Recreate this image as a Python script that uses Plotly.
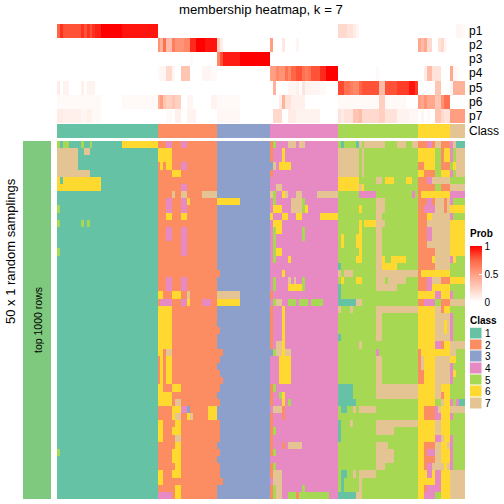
import plotly.graph_objects as go

SIZE = 504
TITLE = "membership heatmap, k = 7"
ROW_TITLE = "50 x 1 random samplings"
BLOCK_TITLE = "top 1000 rows"
CLASS_NAMES = ["1", "2", "3", "4", "5", "6", "7"]
CLASS_COUNTS = [34, 20, 18, 23, 27, 11, 5]
CLASS_COLORS = ["#66C2A5", "#FC8D62", "#8DA0CB", "#E78AC3", "#A6D854", "#FFD92F", "#E5C494"]
PROB_NAMES = ["p1", "p2", "p3", "p4", "p5", "p6", "p7"]

# membership probability, column runs "start-end:value" (all others 0)
P1 = "0:.75 1:.88 2-7:.8 8:.88 9:.8 10:.88 11:.8 12:.88 13-14:.92 15-21:1 22-33:.95 95-97:.2 98-99:.15 100:.1 101:.05 135-136:.05 137:.03"
P2 = "34:.55 35:.4 36:.7 37-38:.35 39:.65 40-42:.55 43-44:.6 45-46:.9 47-49:1 50-53:.95 54:.25 55:.1 72:.5 76:.12 81:.05 122:.45 123:.35 124:.45 125-126:.2 129:.15 130:.2 131:.05"
P3 = "45:.03 54:.6 55:.8 56-61:.93 62-71:1"
P4 = "34:.03 35-36:.05 37-38:.2 39:.05 42-44:.3 49-51:.05 52-53:.03 72-73:.5 74:.6 75-76:.55 77:.7 78:.6 79-80:.75 81-82:.8 83:.7 84:.65 85:.7 86-88:.8 89-90:.9 91-94:1 108:.03 124:.1 125-126:.35 127-129:.15 133:.45 134:.05 135:.03"
P5 = "0:.1 2-3:.06 8:.08 10-12:.06 73:.4 78-80:.05 81:.08 83:.15 84-85:.06 86-88:.05 89-90:.03 95-96:.82 97-98:.7 99:.65 100-101:.6 102:.75 103-108:.8 109-110:.35 111-114:.8 115-118:.85 119-120:.95 121:.85 128-129:.3 133:.05 134-137:.4"
P6 = "0-14:.03 22-33:.03 34:.4 35:.5 36:.3 37-38:.25 39:.3 40-41:.25 44-45:.05 52-53:.06 54-61:.03 75:.1 76:.4 77-78:.15 79-83:.08 95-108:.03 109-110:.25 111-117:.03 122:.5 123:.45 124:.55 125-127:.45 128-129:.3 130:.55 131-132:.7"
P7 = "0-1:.1 2-7:.08 8-9:.05 10-11:.07 12-14:.03 37-38:.03 40-41:.08 44-46:.06 54-61:.04 73-75:.2 78-80:.1 81-88:.06 95:.15 96:.1 97-99:.15 100-101:.3 102:.35 103-108:.2 109-110:.25 111-114:.15 115-118:.06 119-121:.04 123:.05 125:.03 128-129:.3 130:.2 131-132:.15 133-137:.5"
PROB_ROWS = [P1, P2, P3, P4, P5, P6, P7]

# sampled class of every row: exceptions from the column's own class
ROW_RUNS = [
    "0:5 2-3:5 8:5 11:5 22-33:6 37-38:4 42-43:4 72:2 73:5 78-80:7 82-83:7 96:1 101:1 102:7 104-110:7 115-117:7 120-121:7",
    "0-6:7 9-10:7 34-38:6 72:2 76:6 95-101:7 103:7",
    "0-6:7 34-38:6 72:2 76:6 95-101:7 103:7",
    "0-6:7 35:6 37-38:6 42-43:4 72:3 73:7 75-78:6 95-101:7 103:7",
    "0-10:7 39-41:6 72:2 95-101:7 103:7",
    "0:6 2-14:6 95-101:6 108-109:7 111-113:6 118-119:6",
    "0-14:6 42-43:4 74-75:7 95-101:6 102:7 103:6",
    "39:7 42-43:7 49-53:7 72:7 73:5 76:6 77:7 81-82:7 88-94:7 102-107:4 120:4",
    "37-38:4 42-43:4 44:6 54-61:6 73:5 79-82:7 83:5 108-110:7",
    "0:5 37-38:4 42-43:4 73-75:6 79-82:7 83:5 84:6 102:6 108-110:7",
    "37-38:6 42-43:6 72:6 76-77:6 81-82:6 89-94:6 108-109:7",
    "0:5 8:5 10:5 73-75:6 102:6 104-107:6 108-110:7",
    "37-38:4 42-43:4 73:5 74-75:6 83:5 102:6 108-109:7",
    "37-38:4 42-43:4 73:5 83:5 96:6 101-102:6 108-109:7",
    "42-43:4 73:5 96:6 101-102:6 108-109:7",
    "0:5 42-43:4 73:5 74-75:6 102:6 108-109:7",
    "73:5 78:6 101-102:6 108-109:7 110:6 113-117:6",
    "95:1 108-109:7 110-114:6",
    "54:2 76:6 95:7 97-99:7 108-121:7",
    "37-38:4 42-43:4 73:5 78:7 80:7 83:5 96:6 101-102:6 108-110:7 112-117:7",
    "37-38:4 42-43:4 73:5 78-82:6 83:5 95:1 108-114:7",
    "34-35:6 39-41:6 44:7 54-61:7 72:2 95:1",
    "35-38:4 42-43:4 44:6 49-51:4 54-61:6 73:5 74-75:7 78-80:5 82-84:5 86-89:5 95-100:1 101-102:7",
    "34-38:6 72:2 76:6 95:7 99:7 108-121:7",
    "34-38:6 72:2 76:6 108-109:7",
    "34-38:6 72:2 76:6 108-109:7",
    "34-38:6 54:2 72:2 76:6 108-109:7",
    "34-38:6 72:2 76:6 95:1 108-109:7",
    "34-38:6 72:2 74-75:7 76:6 102:7",
    "34-35:6 37-38:7 54-55:2 72:3 73:5 74-75:7 76:6 77-78:7 108:4",
    "35:6 37-38:6 54:2 75-78:6 108-109:7",
    "35:6 37-38:6 75-78:6 108-109:7",
    "35:6 37-38:6 54:2 75-78:6 108-109:7",
    "35:6 37-38:6 54-55:2 75-78:6 108-109:7",
    "34-35:6 39-41:6 54:2 72:2 73:5 95-99:1 108-121:7",
    "34-38:6 72:2 75:5 76:6 95-99:1 108-121:7",
    "34-38:6 40-41:7 54:2 72:2 76:6 78:5 95-100:1",
    "39-41:6 42-43:4 44:3 51-53:6 73-75:7 76:2 96-97:1 100:7 102-107:7",
    "39:6 40-41:7 44:6 45:7 51-53:6 72:2 76:2",
    "34-35:6 40-41:6 54:2 72:2 95:1 99:7 108-121:7",
    "34-35:6 39-41:6 54:2 72:2 73:5 95:1 108-113:7",
    "34-35:6 40-41:7 54:2 72:2 95:1",
    "40-41:6 72:2 76:2 78-82:7 108-111:7",
    "0:5 39-41:6 54:2 72:2 73:5 108-113:7",
    "39-41:6 108-113:7",
    "40-41:6 54:2 72:2 73:5 108-110:7",
    "34-35:6 39-41:6 54:2 72:2 73-75:7 96-97:1 100:7 102-107:7",
    "34-35:6 54-55:2 73-75:7 96:1 102:7",
    "40-41:6 72:2 73:5 74-75:7 83:5 96:1 102:7",
    "34-38:4 40-41:6 72:2 73:5 74-75:7 78-80:5 81:2 82-91:5 95-100:1 101-102:7",
]

# the last sixteen columns (classes 6 and 7), row by row
ROW_TAILS = [
    "222 44 2 77 222 4 7 111", "666 66 6 55 266 4 5 777", "666 66 6 55 266 4 5 777",
    "226 66 6 55 222 5 6 777", "662 22 2 55 666 4 5 777", "222 44 7 77 777 5 5 555",
    "222 22 2 55 222 7 7 777", "266 66 6 66 666 4 4 444", "222 44 2 77 727 4 5 555",
    "224 44 4 77 727 6 6 666", "222 66 7 77 777 4 5 555", "222 77 7 77 777 6 6 666",
    "222 44 7 77 777 6 6 666", "222 44 7 77 777 6 6 666", "222 77 7 77 777 6 6 666",
    "222 22 2 77 777 6 6 666", "222 22 6 77 777 4 6 555", "222 22 2 77 777 5 5 555",
    "266 66 6 66 666 5 5 555", "222 44 7 77 222 6 6 666", "222 44 6 66 666 5 5 555",
    "666 66 6 44 666 4 5 555", "224 44 4 55 222 7 7 777", "666 66 6 77 266 5 5 555",
    "666 66 6 77 777 4 5 555", "666 66 6 77 767 4 5 555", "666 66 6 77 767 4 5 555",
    "666 66 6 77 777 4 5 555", "666 66 6 44 266 7 7 777", "266 66 6 66 666 7 7 555",
    "276 66 6 77 777 6 6 555", "276 66 6 77 777 4 5 555", "226 66 6 77 777 4 6 555",
    "226 66 6 77 777 4 5 555", "666 66 6 77 666 5 5 555", "666 66 6 77 266 5 5 555",
    "666 66 6 55 766 4 5 411", "662 22 2 47 666 7 7 777", "662 22 2 44 666 4 5 555",
    "666 66 6 77 666 5 5 555", "666 66 6 77 666 5 5 555", "666 66 6 44 766 4 5 555",
    "662 22 2 77 667 4 5 555", "662 44 4 77 666 4 5 555", "662 22 2 77 666 4 5 555",
    "662 44 7 77 767 4 5 555", "666 44 6 44 666 7 7 777", "666 66 6 44 666 7 7 777",
    "662 44 4 44 666 7 7 777", "664 44 4 55 666 7 7 777",
]

FONT = "Liberation Sans"


def parse_runs(text):
    out = []
    for item in text.split():
        span, val = item.split(":")
        a, _, b = span.partition("-")
        out.append((int(a), int(b or a), float(val)))
    return out


col_class = [i + 1 for i, n in enumerate(CLASS_COUNTS) for _ in range(n)]
n_cols = len(col_class)

prob_z = []
for text in PROB_ROWS:
    row = [0.0] * n_cols
    for a, b, v in parse_runs(text):
        row[a:b + 1] = [v] * (b - a + 1)
    prob_z.append(row)

body_z = []
for runs, tail in zip(ROW_RUNS, ROW_TAILS):
    row = list(col_class)
    for a, b, v in parse_runs(runs):
        row[a:b + 1] = [int(v)] * (b - a + 1)
    digits = [int(c) for c in tail.replace(" ", "")]
    row[-len(digits):] = digits
    body_z.append(row)


def hdom(a, b):
    return [a / SIZE, b / SIZE]


def vdom(top, bottom):
    return [1 - bottom / SIZE, 1 - top / SIZE]


n_class = len(CLASS_COLORS)
class_scale = []
for i, c in enumerate(CLASS_COLORS):
    class_scale += [[i / n_class, c], [(i + 1) / n_class, c]]
class_args = dict(colorscale=class_scale, zmin=0.5, zmax=n_class + 0.5, showscale=False, hoverinfo="skip")
prob_scale = [[0, "#FFFFFF"], [0.25, "#FFCFC0"], [0.5, "#FF9E81"], [0.75, "#FF6645"], [1, "#FF0000"]]

fig = go.Figure()
fig.add_trace(go.Heatmap(
    z=prob_z, colorscale=prob_scale, zmin=0, zmax=1, hoverinfo="skip", xaxis="x", yaxis="y",
    colorbar=dict(
        x=470 / SIZE, xanchor="left", y=1 - 246 / SIZE, yanchor="top",
        thickness=12, thicknessmode="pixels", len=56, lenmode="pixels",
        xpad=0, ypad=0, outlinewidth=0, borderwidth=0,
        tickvals=[0, 0.5, 1], ticktext=["0", "0.5", "1"], ticks="inside", ticklen=3,
        tickcolor="#FFFFFF", tickfont=dict(family=FONT, size=10, color="#000000"),
    ),
))
fig.add_trace(go.Heatmap(z=[col_class], xaxis="x2", yaxis="y2", **class_args))
fig.add_trace(go.Heatmap(z=body_z, xaxis="x3", yaxis="y3", **class_args))
fig.add_trace(go.Heatmap(z=[[1]], colorscale=[[0, "#7FC97F"], [1, "#7FC97F"]], showscale=False,
                         hoverinfo="skip", xaxis="x4", yaxis="y4"))
fig.add_trace(go.Heatmap(z=[[i + 1] for i in range(n_class)], xaxis="x5", yaxis="y5", ygap=1, **class_args))

axis = dict(visible=False, fixedrange=True)
fig.update_layout(
    width=SIZE, height=SIZE, margin=dict(l=0, r=0, t=0, b=0), autosize=False,
    paper_bgcolor="#FFFFFF", plot_bgcolor="#FFFFFF", showlegend=False,
    xaxis=dict(domain=hdom(57, 465), **axis), yaxis=dict(domain=vdom(24, 123), autorange="reversed", **axis),
    xaxis2=dict(domain=hdom(57, 465), **axis), yaxis2=dict(domain=vdom(124, 138), **axis),
    xaxis3=dict(domain=hdom(57, 465), **axis), yaxis3=dict(domain=vdom(141, 499), autorange="reversed", **axis),
    xaxis4=dict(domain=hdom(23, 51), **axis), yaxis4=dict(domain=vdom(141, 499), **axis),
    xaxis5=dict(domain=hdom(470, 481.5), **axis), yaxis5=dict(domain=vdom(327.5, 409), autorange="reversed", **axis),
)


def note(text, x, y, size=12.5, xanchor="left", angle=0, bold=False):
    fig.add_annotation(
        text=f"<b>{text}</b>" if bold else text, xref="paper", yref="paper",
        x=x / SIZE, y=1 - y / SIZE, xanchor=xanchor, yanchor="middle", textangle=angle, showarrow=False,
        font=dict(family=FONT, size=size, color="#000000"), borderpad=0, borderwidth=0,
    )


note(TITLE, 261, 9, size=13.2, xanchor="center")
for i, name in enumerate(PROB_NAMES):
    note(name, 468.5, 31 + 14.15 * i, size=12)
note("Class", 468.5, 131.5, size=12)
note(ROW_TITLE, 10, 251, size=13, xanchor="center", angle=-90)
note(BLOCK_TITLE, 38, 320, size=10.5, xanchor="center", angle=-90)
note("Prob", 470, 233.5, size=10, bold=True)
note("Class", 470, 320, size=10, bold=True)
for i, name in enumerate(CLASS_NAMES):
    note(name, 485, 333.5 + 11.64 * i, size=10)

fig.write_html("out.html", config={"displayModeBar": False},
               post_script="document.body.style.margin='0';document.body.style.overflow='hidden';")
